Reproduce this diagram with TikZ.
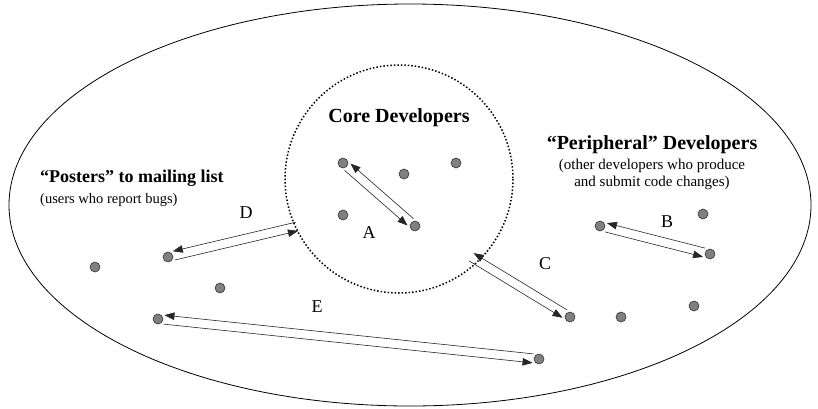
\documentclass[tikz,border=0pt]{standalone}
\usepackage{fontspec}
\setmainfont{Liberation Serif}
\usetikzlibrary{calc,arrows.meta}
\tikzset{
  dev/.style={circle, draw=black!80, fill=black!50, line width=0.6pt, inner sep=0pt, minimum size=10pt},
  flow/.style={draw=black!85, line width=0.6pt, -{Triangle[length=10pt,width=7.5pt]}},
  grouptitle/.style={font=\bfseries\fontsize{20}{22}\selectfont, inner sep=0pt},
  groupnote/.style={font=\fontsize{15}{17}\selectfont, inner sep=0pt, align=center},
  pathlabel/.style={font=\fontsize{18}{20}\selectfont, inner sep=0pt}
}
\newcommand{\twoway}[4]{%
  \draw[flow, shorten <=#4, shorten >=#3] ($(#2)!4.5pt!-90:(#1)$) -- ($(#1)!4.5pt!90:(#2)$);
  \draw[flow, shorten <=#3, shorten >=#4] ($(#1)!4.5pt!-90:(#2)$) -- ($(#2)!4.5pt!90:(#1)$);}
\begin{document}
\begin{tikzpicture}[x=1pt, y=-1pt]
	\useasboundingbox (0,0) rectangle (818,408);
	\draw[line width=0.8pt] (410,205) ellipse [x radius=401, y radius=201];
	\draw[dotted, line width=1.5pt] (399,179) circle [radius=114];
	\node[grouptitle] (coretitle) at (399,118) {Core Developers};
	\node[grouptitle, font=\bfseries\fontsize{18}{20}\selectfont, anchor=west] (postertitle) at (40,178) {“Posters” to mailing list};
	\node[groupnote, font=\fontsize{14.5}{17}\selectfont, anchor=west] (posternote) at (40,200) {(users who report bugs)};
	\node[grouptitle] (periphtitle) at (652,145) {“Peripheral” Developers};
	\node[groupnote, anchor=north] (periphnote) at (652,159) {(other developers who produce\\and submit code changes)};
	\node[dev] (a1) at (343,163) {};
	\node[dev] (core2) at (404,174) {};
	\node[dev] (core3) at (456,163) {};
	\node[dev] (core4) at (343,215) {};
	\node[dev] (a2) at (415,226) {};
	\node[dev] (post1) at (95,267) {};
	\node[dev] (d1) at (168,257) {};
	\node[dev] (post3) at (220,288) {};
	\node[dev] (e1) at (158,319) {};
	\node[dev] (b1) at (600,226) {};
	\node[dev] (peri2) at (703,214) {};
	\node[dev] (b2) at (710,254) {};
	\node[dev] (c1) at (570,317) {};
	\node[dev] (peri4) at (621,317) {};
	\node[dev] (peri5) at (694,306) {};
	\node[dev] (e2) at (539,359) {};
	\coordinate (d2) at (295,227);
	\coordinate (c2) at (473,258);
	\twoway{a1}{a2}{6pt}{6pt}
	\twoway{b1}{b2}{6pt}{6pt}
	\twoway{c1}{c2}{6pt}{-2pt}
	\twoway{d1}{d2}{6pt}{-2pt}
	\twoway{e1}{e2}{6pt}{6pt}
	\node[pathlabel] (labA) at (369,233) {A};
	\node[pathlabel] (labB) at (667,222) {B};
	\node[pathlabel] (labC) at (545,264) {C};
	\node[pathlabel] (labD) at (246,213) {D};
	\node[pathlabel] (labE) at (317,307) {E};
\end{tikzpicture}
\end{document}
